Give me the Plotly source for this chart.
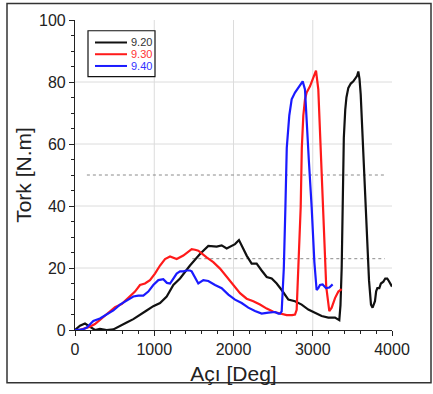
import plotly.graph_objects as go

# Torque vs. angle for three test settings
angle_920 = [0, 63, 126, 168, 252, 315, 400, 484, 568, 652, 736, 820, 904, 988, 1073, 1157,
             1241, 1325, 1451, 1577, 1682, 1788, 1851, 1914, 1977, 2019, 2069, 2103, 2166,
             2229, 2292, 2355, 2419, 2482, 2545, 2608, 2692, 2776, 2860, 2944, 3028, 3112,
             3196, 3281, 3335, 3350, 3365, 3378, 3392, 3410, 3425, 3449, 3480, 3512, 3545,
             3560, 3575, 3590, 3605, 3620, 3650, 3680, 3710, 3735, 3755, 3785, 3800, 3815,
             3840, 3860, 3891, 3915, 3940, 3960, 3980, 4000]
torque_920 = [0, 1.4, 2.1, 1.4, 0, 0.4, 0, 0.2, 1.4, 2.4, 3.5, 5.0, 6.3, 7.7, 8.7, 10.8,
              14.5, 16.6, 20.8, 24.5, 27.1, 26.9, 27.3, 26.3, 27.1, 27.7, 29.0, 27.1, 24.0,
              21.4, 21.4, 19.2, 17.1, 16.6, 15.0, 12.9, 9.8, 9.3, 8.2, 6.6, 5.6, 4.5,
              4.0, 4.0, 3.2, 8.0, 20.0, 45.0, 62.0, 71.0, 75.0, 78.1, 79.5, 80.2, 81.2,
              82.0, 83.4, 81.0, 76.0, 68.0, 50.0, 32.0, 16.0, 8.2, 7.2, 9.3, 12.5, 13.5,
              13.5, 15.0, 15.6, 16.6, 16.6, 15.8, 15.0, 14.0]

angle_930 = [60, 105, 180, 252, 336, 420, 505, 589, 673, 757, 820, 883, 946, 1009, 1073,
             1136, 1199, 1283, 1367, 1472, 1514, 1556, 1661, 1745, 1830, 1914, 1998, 2082,
             2166, 2250, 2334, 2419, 2503, 2587, 2671, 2740, 2776, 2797, 2815, 2830, 2848,
             2862, 2881, 2902, 2923, 2965, 3007, 3041, 3070, 3091, 3125, 3150, 3170, 3209,
             3239, 3281, 3323, 3365]
torque_930 = [0, 0.3, 1.0, 1.9, 3.7, 5.6, 7.4, 8.4, 10.3, 12.4, 14.5, 15.0, 16.1, 18.2, 20.8,
              22.9, 23.7, 22.9, 24.0, 26.1, 25.9, 25.6, 23.4, 21.9, 19.8, 17.1, 14.5, 11.9,
              10.1, 9.3, 8.2, 6.9, 5.9, 5.3, 4.8, 4.8, 5.0, 6.5, 18.0, 29.2, 39.7,
              58.7, 69.2, 74.4, 76.6, 78.6, 81.8, 83.7, 77.6, 63.9, 39.7, 25.0, 14.0, 6.1,
              7.2, 10.3, 12.4, 13.2]

angle_940 = [0, 100, 150, 189, 231, 315, 400, 484, 568, 652, 736, 799, 862, 925, 988, 1052,
             1114, 1160, 1199, 1241, 1283, 1325, 1367, 1409, 1451, 1472, 1514, 1556, 1619,
             1682, 1767, 1851, 1935, 2019, 2103, 2187, 2271, 2355, 2440, 2524, 2566, 2587,
             2608, 2635, 2655, 2672, 2704, 2734, 2776, 2818, 2850, 2873, 2902, 2923, 2950,
             2986, 3020, 3049, 3070, 3091, 3125, 3167, 3209, 3251]
torque_940 = [0, 0.2, 0.8, 1.9, 2.9, 3.7, 5.0, 6.3, 8.2, 9.5, 10.8, 11.1, 11.1, 12.4, 14.5, 16.1,
              16.4, 15.2, 15.0, 16.6, 18.2, 18.9, 18.9, 19.2, 19.2, 18.9, 17.1, 15.0, 16.1,
              15.8, 14.5, 13.5, 11.4, 9.8, 8.7, 7.2, 6.1, 5.3, 5.6, 5.8, 5.3, 5.3,
              6.0, 20.0, 39.7, 58.7, 69.2, 74.4, 76.6, 78.1, 79.0, 80.2, 77.6, 69.2, 55.0,
              39.7, 22.0, 12.9, 13.5, 14.5, 14.7, 13.5, 13.7, 14.7]

series_names = ["9.20", "9.30", "9.40"]
series_colors = ["#111111", "#ff1a1a", "#1a1aff"]
label_colors = ["#333333", "#ff3333", "#3333ff"]

# Dotted reference levels (torque value, start angle, end angle)
ref_levels = [50, 23]
ref_starts = [150, 1480]
ref_end = 3910

x_grid = [1000, 2000, 3000]
y_grid = [20, 40, 60, 80]

FONT = "Liberation Sans, Arial, sans-serif"

fig = go.Figure()

for xs, ys, name, col in zip([angle_920, angle_930, angle_940],
                             [torque_920, torque_930, torque_940],
                             series_names, series_colors):
    fig.add_trace(go.Scatter(x=xs, y=ys, mode="lines", name=name,
                             line=dict(color=col, width=2.2), showlegend=False))

shapes = []
for gx in x_grid:
    shapes.append(dict(type="line", xref="x", yref="y", x0=gx, x1=gx, y0=0, y1=100,
                       line=dict(color="#dcdcdc", width=1), layer="below"))
for gy in y_grid:
    shapes.append(dict(type="line", xref="x", yref="y", x0=0, x1=4000, y0=gy, y1=gy,
                       line=dict(color="#dcdcdc", width=1), layer="below"))
for lvl, xs0 in zip(ref_levels, ref_starts):
    shapes.append(dict(type="line", xref="x", yref="y", x0=xs0, x1=ref_end, y0=lvl, y1=lvl,
                       line=dict(color="#8a8a8a", width=1, dash="dot"), layer="below"))

# Plot area in pixels: left 75, right 392, top 19, bottom 336
W, H = 433, 394
L, R, T, B = 75, 392, 19, 336
pw, ph = R - L, B - T


def px(xp):
    return (xp - L) / pw


def py(yp):
    return (B - yp) / ph


# outer frame
shapes.append(dict(type="rect", xref="paper", yref="paper",
                   x0=px(7), x1=px(431), y0=py(390), y1=py(2),
                   line=dict(color="#333333", width=1.5)))

# legend box
shapes.append(dict(type="rect", xref="paper", yref="paper",
                   x0=px(88), x1=px(155), y0=py(77), y1=py(30),
                   line=dict(color="#111111", width=1.2), fillcolor="white"))
annotations = []
for i, (name, col, tcol) in enumerate(zip(series_names, series_colors, label_colors)):
    yy = 42 + 12 * i
    shapes.append(dict(type="line", xref="paper", yref="paper",
                       x0=px(95), x1=px(127), y0=py(yy), y1=py(yy),
                       line=dict(color=col, width=2)))
    annotations.append(dict(xref="paper", yref="paper", x=px(129), y=py(yy),
                            text=name, showarrow=False, xanchor="left", yanchor="middle",
                            font=dict(family=FONT, size=11, color=tcol)))

fig.update_layout(
    width=W, height=H,
    margin=dict(l=L, r=W - R, t=T, b=H - B, pad=0),
    paper_bgcolor="white", plot_bgcolor="white",
    shapes=shapes, annotations=annotations,
    font=dict(family=FONT, color="#222222"),
    xaxis=dict(range=[0, 4000], dtick=1000, showgrid=False, zeroline=False,
               showline=True, linecolor="#222222", linewidth=1.2,
               ticks="outside", ticklen=5, tickcolor="#222222", tickwidth=1,
               minor=dict(dtick=200, ticks="outside", ticklen=3, tickcolor="#222222", showgrid=False),
               tickfont=dict(size=16, color="#222222"),
               title=dict(text="Açı [Deg]", font=dict(size=21, color="#222222"), standoff=9)),
    yaxis=dict(range=[0, 100], dtick=20, showgrid=False, zeroline=False,
               showline=True, linecolor="#222222", linewidth=1.2,
               ticks="outside", ticklen=5, tickcolor="#222222", tickwidth=1,
               minor=dict(dtick=5, ticks="outside", ticklen=3, tickcolor="#222222", showgrid=False),
               tickfont=dict(size=16, color="#222222"),
               title=dict(text="Tork [N.m]", font=dict(size=21, color="#222222"), standoff=1)),
)

fig.write_html("out.html")
